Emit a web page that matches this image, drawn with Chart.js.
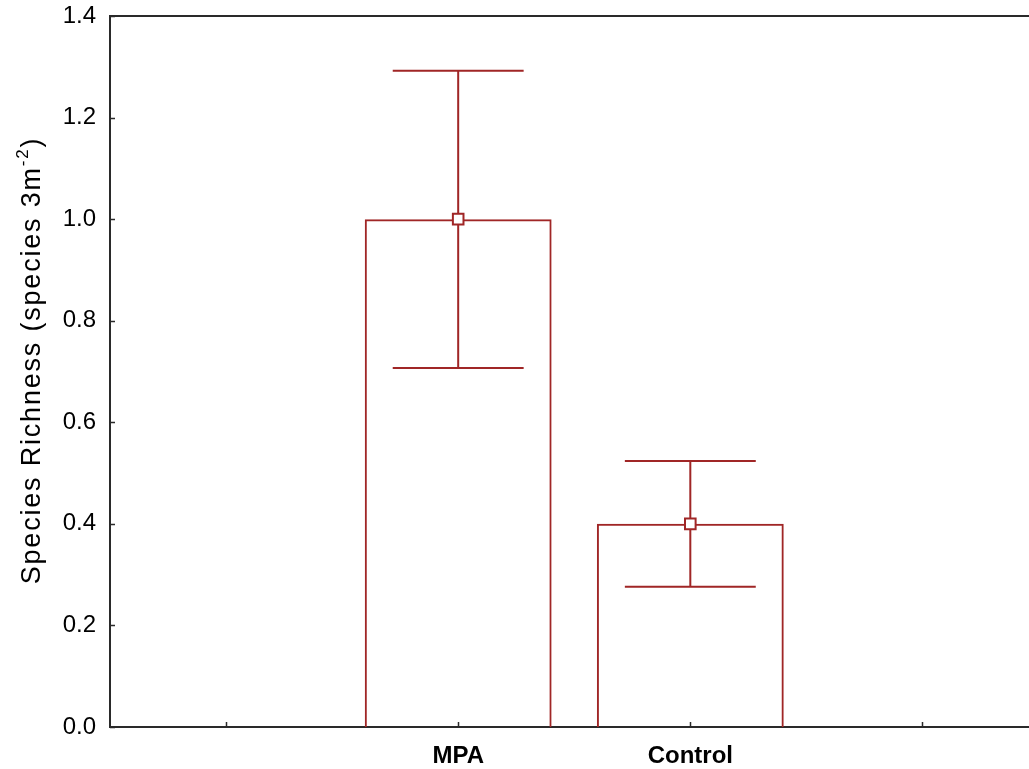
<!DOCTYPE html>
<html>
<head>
<meta charset="utf-8">
<script src="https://cdn.jsdelivr.net/npm/chart.js@4"></script>
<style>
  html, body { margin: 0; padding: 0; background: #fff; overflow: hidden; }
  canvas { display: block; }
</style>
</head>
<body>
<canvas id="myChart" width="1048" height="769"></canvas>
<script>
// valores
const categories = ['', 'MPA', 'Control', ''];
const means = [null, 1.0, 0.4, null];
const upperErr = [null, 1.292, 0.524, null];
const lowerErr = [null, 0.707, 0.276, null];
const yTicks = [0, 0.2, 0.4, 0.6, 0.8, 1.0, 1.2, 1.4];

const red = 'rgb(160, 38, 38)';
const axisColor = '#2a2a2a';
const fontFamily = '"Liberation Sans", Arial, sans-serif';

// barras de error, se dibujan antes que las barras y los marcadores
const errorBars = {
    id: 'errorBars',
    beforeDatasetsDraw(chart) {
        const ctx = chart.ctx;
        const x = chart.scales.x;
        const y = chart.scales.y;
        const step = x.getPixelForValue(1) - x.getPixelForValue(0);
        const half = step * 0.282;
        ctx.save();
        ctx.strokeStyle = red;
        ctx.lineWidth = 2;
        means.forEach((m, i) => {
            if (m === null) return;
            const px = x.getPixelForValue(i);
            const top = y.getPixelForValue(upperErr[i]);
            const bot = y.getPixelForValue(lowerErr[i]);
            ctx.beginPath();
            ctx.moveTo(px, top);
            ctx.lineTo(px, bot);
            ctx.moveTo(px - half, top);
            ctx.lineTo(px + half, top);
            ctx.moveTo(px - half, bot);
            ctx.lineTo(px + half, bot);
            ctx.stroke();
        });
        ctx.restore();
    }
};

// marco superior, marcas hacia adentro y titulo del eje Y con superindice
const frame = {
    id: 'frame',
    afterDraw(chart) {
        const ctx = chart.ctx;
        const area = chart.chartArea;
        const x = chart.scales.x;
        const y = chart.scales.y;
        ctx.save();
        ctx.strokeStyle = axisColor;
        ctx.lineWidth = 2;
        ctx.beginPath();
        ctx.moveTo(area.left - 1, area.top);
        ctx.lineTo(area.right, area.top);
        ctx.stroke();

        ctx.lineWidth = 1.5;
        ctx.beginPath();
        yTicks.forEach(v => {
            const py = Math.round(y.getPixelForValue(v)) + 0.5;
            ctx.moveTo(area.left, py);
            ctx.lineTo(area.left + 5, py);
        });
        categories.forEach((c, i) => {
            const px = Math.round(x.getPixelForValue(i)) + 0.5;
            ctx.moveTo(px, area.bottom);
            ctx.lineTo(px, area.bottom - 5);
        });
        ctx.stroke();

        // titulo
        const main = 'Species Richness (species 3m';
        const sup = '-2';
        const close = ')';
        const big = '27px ' + fontFamily;
        const small = '17px ' + fontFamily;
        ctx.fillStyle = '#000';
        ctx.translate(40, (area.top + area.bottom) / 2 - 11);
        ctx.rotate(-Math.PI / 2);
        ctx.letterSpacing = '1.8px';
        ctx.font = big;
        const w1 = ctx.measureText(main).width;
        const w3 = ctx.measureText(close).width;
        ctx.font = small;
        const w2 = ctx.measureText(sup).width;
        const start = -(w1 + w2 + w3) / 2;
        ctx.textBaseline = 'alphabetic';
        ctx.textAlign = 'left';
        ctx.font = big;
        ctx.fillText(main, start, 0);
        ctx.font = small;
        ctx.fillText(sup, start + w1, -12);
        ctx.font = big;
        ctx.fillText(close, start + w1 + w2, 0);
        ctx.restore();
    }
};

const data = {
    labels: categories,
    datasets: [
        {
            type: 'line',
            data: means,
            showLine: false,
            pointStyle: 'rect',
            pointRadius: 7.5,
            pointBackgroundColor: '#fff',
            pointBorderColor: red,
            pointBorderWidth: 2,
            order: 0
        },
        {
            type: 'bar',
            data: means,
            backgroundColor: 'rgba(0,0,0,0)',
            borderColor: red,
            borderWidth: 2,
            borderSkipped: 'bottom',
            barPercentage: 0.805,
            categoryPercentage: 1,
            order: 1
        }
    ]
};

const config = {
    type: 'bar',
    data: data,
    options: {
        responsive: false,
        animation: false,
        layout: { padding: { top: 16, left: 0, right: 0, bottom: 0 } },
        plugins: {
            legend: { display: false },
            tooltip: { enabled: false }
        },
        scales: {
            x: {
                grid: { display: false, drawTicks: false },
                border: { display: true, color: axisColor, width: 2 },
                ticks: {
                    color: '#000',
                    padding: 15,
                    font: { family: fontFamily, size: 24, weight: 'bold' }
                },
                afterFit: (s) => { s.height = 42; s.paddingLeft = 0; s.paddingRight = 0; }
            },
            y: {
                min: 0,
                max: 1.4,
                grid: { display: false, drawTicks: false },
                border: { display: true, color: axisColor, width: 2 },
                ticks: {
                    stepSize: 0.2,
                    color: '#000',
                    padding: 14,
                    font: { family: fontFamily, size: 24 },
                    callback: (v) => Number(v).toFixed(1)
                },
                afterFit: (s) => { s.width = 110; s.paddingTop = 0; s.paddingBottom = 0; }
            }
        }
    },
    plugins: [errorBars, frame]
};

new Chart(document.getElementById('myChart'), config);
</script>
</body>
</html>
